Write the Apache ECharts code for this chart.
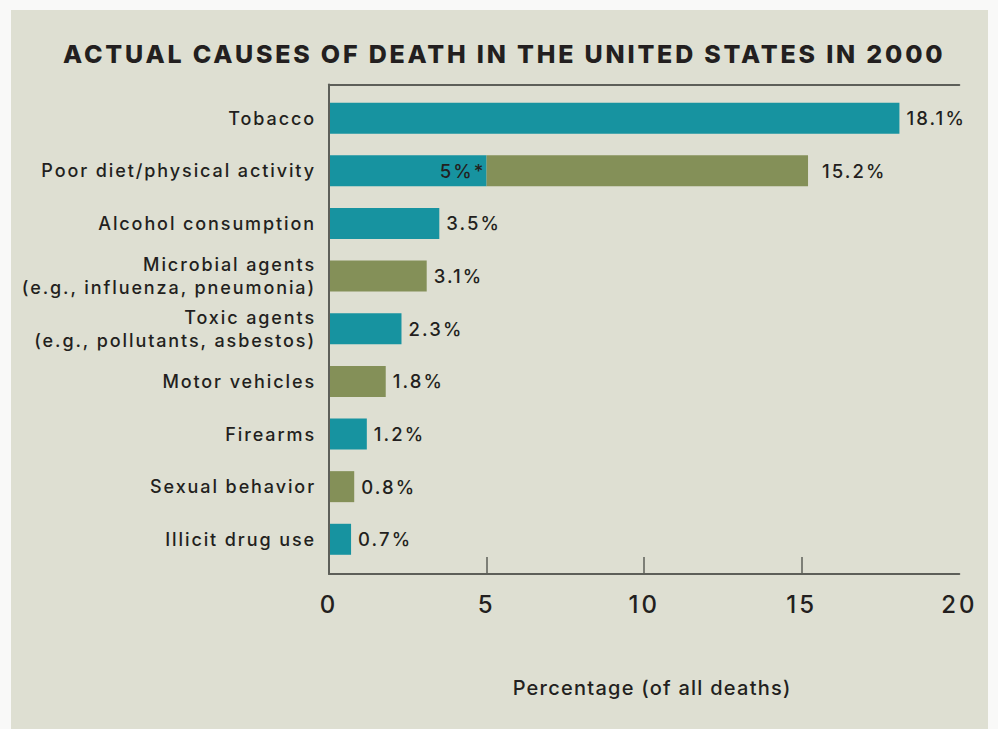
<!DOCTYPE html>
<html>
<head>
<meta charset="utf-8">
<script src="https://cdn.jsdelivr.net/npm/echarts@6.0.0/dist/echarts.min.js"></script>
<style>
  html, body { margin: 0; padding: 0; background: #f9f9f8; width: 998px; height: 729px; overflow: hidden; }
  #chart { position: absolute; left: 11px; top: 10px; width: 977px; height: 719px; }
  #chart text[style*="25px"] { letter-spacing: 2.8px; }
  #chart text[style*="18px"] { letter-spacing: 1.9px; }
  #chart text[style*="18.5px"] { letter-spacing: 2.1px; }
  #chart text[style*="24px"] { letter-spacing: 3px; }
  #chart text[style*="20px"] { letter-spacing: 1.25px; }
</style>
</head>
<body>
<div id="chart"></div>
<script>
// ---- data ----
const titleText = 'ACTUAL CAUSES OF DEATH IN THE UNITED STATES IN 2000';
const axisName = 'Percentage (of all deaths)';
const categories = [
  'Tobacco',
  'Poor diet/physical activity',
  'Alcohol consumption',
  'Microbial agents\n(e.g., influenza, pneumonia)',
  'Toxic agents\n(e.g., pollutants, asbestos)',
  'Motor vehicles',
  'Firearms',
  'Sexual behavior',
  'Illicit drug use'
];
const tealValues  = [18.1, 5,    3.5, null, 2.3, null, 1.2, null, 0.7];
const oliveValues = [null, 10.2, null, 3.1, null, 1.8, null, 0.8, null];
const totalLabels = ['18.1%', '15.2%', '3.5%', '3.1%', '2.3%', '1.8%', '1.2%', '0.8%', '0.7%'];
const splitLabel = '5%*';
const xMin = 0, xMax = 20, xStep = 5;
const innerTicks = [5, 10, 15];

// ---- styles ----
const FONT = 'Inter';
const TXT = '#231f20';
const AXIS = '#5d5f59';
const TEAL = '#1793a0';
const OLIVE = '#849058';

const chart = echarts.init(document.getElementById('chart'), null, { renderer: 'svg' });

const tealData = tealValues.map((v, i) => {
  if (v == null) return null;
  const split = oliveValues[i] != null;
  return {
    value: v,
    label: split
      ? { show: true, position: 'insideRight', distance: 1, formatter: () => splitLabel }
      : { show: true, position: 'right', distance: 7, formatter: () => totalLabels[i] }
  };
});
const oliveData = oliveValues.map((v, i) => v == null ? null : {
  value: v,
  label: { show: true, position: 'right', distance: tealValues[i] != null ? 14 : 7, formatter: () => totalLabels[i] }
});

const labelStyle = { fontFamily: FONT, fontWeight: 500, fontSize: 18.5, color: TXT };

chart.setOption({
  backgroundColor: '#dedfd2',
  animation: false,
  title: {
    text: titleText,
    left: 52, top: 31, padding: 0,
    textStyle: { fontFamily: FONT, fontWeight: 800, fontSize: 25, color: TXT }
  },
  grid: [
    { left: 318, right: 28.7, top: 81.9, bottom: 163.4 },
    { left: 318, right: 28.7, top: 74.5, bottom: 155 }
  ],
  xAxis: [
    { gridIndex: 0, type: 'value', min: xMin, max: xMax, show: false },
    {
      gridIndex: 1, type: 'value', position: 'bottom', min: xMin, max: xMax, interval: xStep, z: 5,
      axisLine: { show: true, lineStyle: { color: AXIS, width: 2 } },
      axisTick: { show: true, inside: true, length: 17, customValues: innerTicks, lineStyle: { color: AXIS, width: 1.5 } },
      axisLabel: { fontFamily: FONT, fontWeight: 500, fontSize: 24, color: TXT, margin: 18 },
      splitLine: { show: false },
      name: axisName, nameLocation: 'middle', nameGap: 104,
      nameTextStyle: { fontFamily: FONT, fontWeight: 500, fontSize: 20, color: TXT, padding: [0, 0, 0, 16] }
    },
    {
      gridIndex: 1, type: 'value', position: 'top', min: xMin, max: xMax, z: 5,
      axisLine: { show: true, lineStyle: { color: AXIS, width: 2 } },
      axisTick: { show: false }, axisLabel: { show: false }, splitLine: { show: false }
    }
  ],
  yAxis: [
    {
      gridIndex: 0, type: 'category', data: categories, inverse: true,
      axisLine: { show: false }, axisTick: { show: false },
      axisLabel: { fontFamily: FONT, fontWeight: 500, fontSize: 18, color: TXT, lineHeight: 23, margin: 13, align: 'right' }
    },
    {
      gridIndex: 1, type: 'value', min: 0, max: 1, z: 5,
      axisLine: { show: true, lineStyle: { color: AXIS, width: 2 } },
      axisTick: { show: false }, axisLabel: { show: false }, splitLine: { show: false }
    }
  ],
  series: [
    {
      type: 'bar', stack: 'total', xAxisIndex: 0, yAxisIndex: 0, barWidth: 31,
      itemStyle: { color: TEAL }, label: labelStyle, data: tealData
    },
    {
      type: 'bar', stack: 'total', xAxisIndex: 0, yAxisIndex: 0, barWidth: 31,
      itemStyle: { color: OLIVE }, label: labelStyle, data: oliveData
    }
  ]
});
</script>
</body>
</html>
